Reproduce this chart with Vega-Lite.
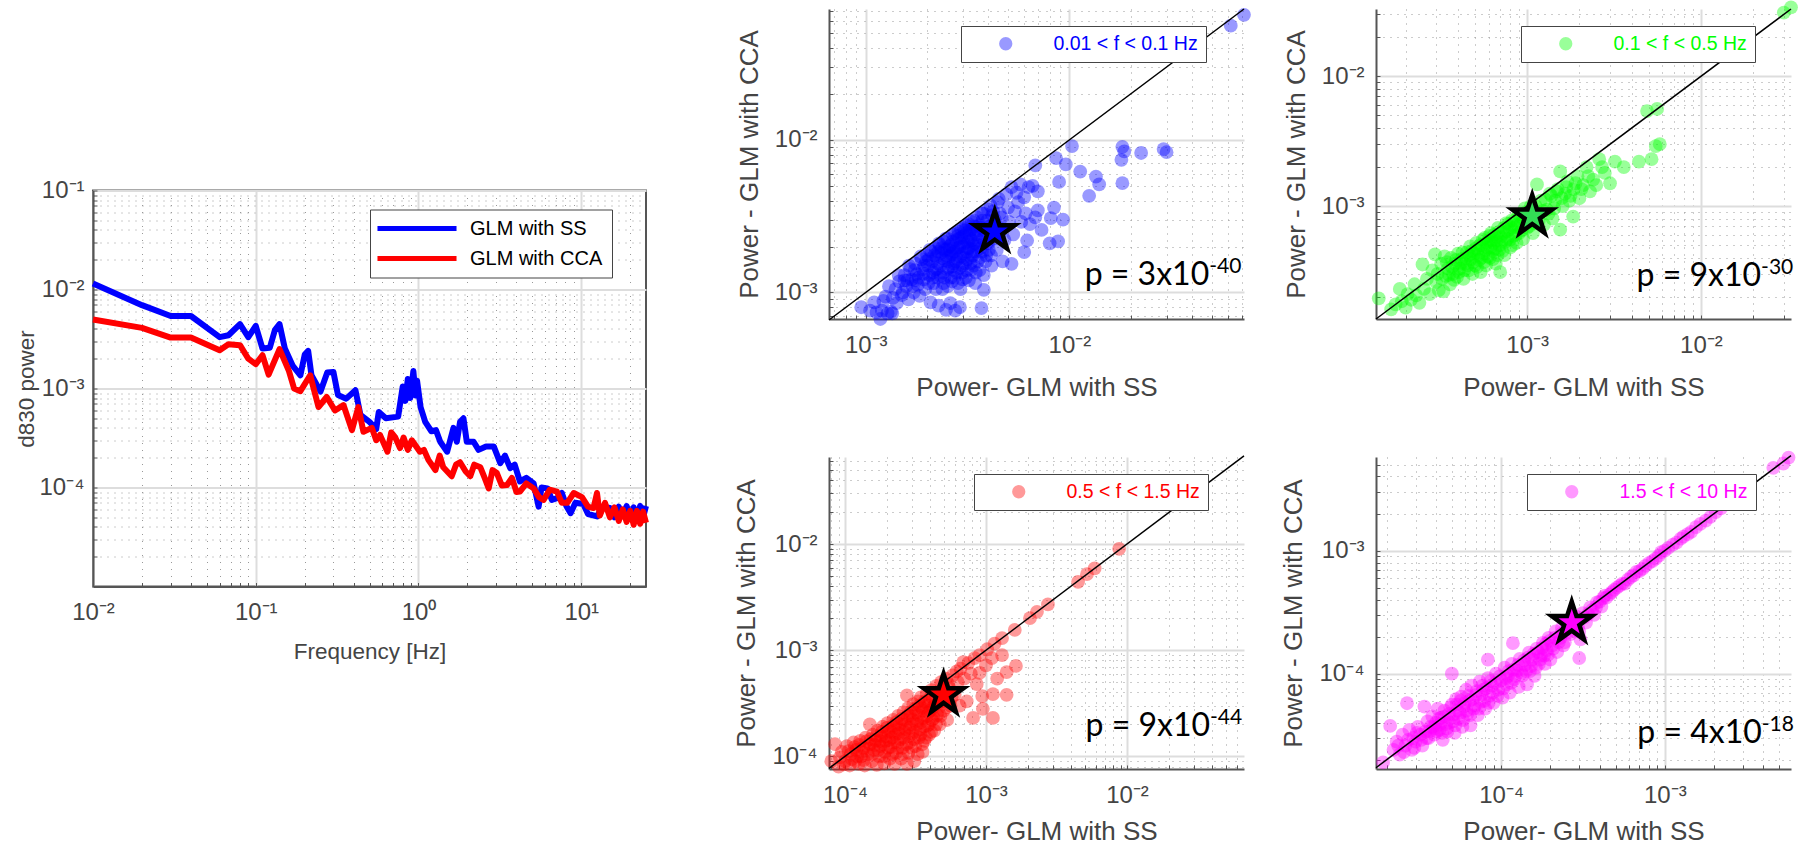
{"$schema":"https://vega.github.io/schema/vega-lite/v6.json","background":"white","padding":{"left":14,"top":-2,"right":0,"bottom":0},"spacing":83,"resolve":{"scale":{"color":"independent"},"legend":{"color":"independent"}},
"config":{"view":{"stroke":null},"axis":{"labelFont":"Liberation Sans","titleFont":"Liberation Sans","titleFontWeight":"normal","labelColor":"#444","titleColor":"#444","domainColor":"#555","domainWidth":2,"tickColor":"#555","tickSize":-4,"labelFontSize":24,"titleFontSize":26,"labelOverlap":false,"labelBound":false,"labelFlush":false,"grid":true},"legend":{"labelFont":"Liberation Sans","labelLimit":400}},
"hconcat":[
{"spacing":18.5,"resolve":{"scale":{"color":"independent"},"legend":{"color":"independent"}},"vconcat":[
{"width":553,"height":150,"data":{"values":[]},"mark":"point"},
{"width":553,"height":396,"view":{"stroke":"#555","strokeWidth":2},
"data":{"values":[
{"f":0.01,"p":1.15e-2,"s":"GLM with SS"},{"f":0.02,"p":6.95e-3,"s":"GLM with SS"},{"f":0.03,"p":5.4e-3,"s":"GLM with SS"},{"f":0.04,"p":5.4e-3,"s":"GLM with SS"},{"f":0.06,"p":3.3e-3,"s":"GLM with SS"},{"f":0.068,"p":3.45e-3,"s":"GLM with SS"},{"f":0.08,"p":4.47e-3,"s":"GLM with SS"},{"f":0.09,"p":3.3e-3,"s":"GLM with SS"},{"f":0.1,"p":4.3e-3,"s":"GLM with SS"},{"f":0.11,"p":2.53e-3,"s":"GLM with SS"},{"f":0.122,"p":2.58e-3,"s":"GLM with SS"},{"f":0.131,"p":3.88e-3,"s":"GLM with SS"},{"f":0.14,"p":4.47e-3,"s":"GLM with SS"},{"f":0.151,"p":2.53e-3,"s":"GLM with SS"},{"f":0.169,"p":1.69e-3,"s":"GLM with SS"},{"f":0.188,"p":1.36e-3,"s":"GLM with SS"},{"f":0.2,"p":2.2e-3,"s":"GLM with SS"},{"f":0.21,"p":2.4e-3,"s":"GLM with SS"},{"f":0.22,"p":1.36e-3,"s":"GLM with SS"},{"f":0.25,"p":9.3e-4,"s":"GLM with SS"},{"f":0.275,"p":1.45e-3,"s":"GLM with SS"},{"f":0.3,"p":1.47e-3,"s":"GLM with SS"},{"f":0.32,"p":8.6e-4,"s":"GLM with SS"},{"f":0.36,"p":7.9e-4,"s":"GLM with SS"},{"f":0.41,"p":9.6e-4,"s":"GLM with SS"},{"f":0.44,"p":5.4e-4,"s":"GLM with SS"},{"f":0.5,"p":4.6e-4,"s":"GLM with SS"},{"f":0.55,"p":3.9e-4,"s":"GLM with SS"},{"f":0.57,"p":5.8e-4,"s":"GLM with SS"},{"f":0.63,"p":5e-4,"s":"GLM with SS"},{"f":0.75,"p":5.2e-4,"s":"GLM with SS"},{"f":0.8,"p":1.05e-3,"s":"GLM with SS"},{"f":0.83,"p":7.5e-4,"s":"GLM with SS"},{"f":0.86,"p":1.25e-3,"s":"GLM with SS"},{"f":0.89,"p":8e-4,"s":"GLM with SS"},{"f":0.93,"p":1.5e-3,"s":"GLM with SS"},{"f":0.96,"p":8.5e-4,"s":"GLM with SS"},{"f":0.98,"p":1.2e-3,"s":"GLM with SS"},{"f":1.03,"p":6.5e-4,"s":"GLM with SS"},{"f":1.1,"p":4.6e-4,"s":"GLM with SS"},{"f":1.2,"p":3.7e-4,"s":"GLM with SS"},{"f":1.28,"p":3.8e-4,"s":"GLM with SS"},{"f":1.36,"p":2.9e-4,"s":"GLM with SS"},{"f":1.5,"p":2.3e-4,"s":"GLM with SS"},{"f":1.64,"p":4e-4,"s":"GLM with SS"},{"f":1.72,"p":2.9e-4,"s":"GLM with SS"},{"f":1.8,"p":4.6e-4,"s":"GLM with SS"},{"f":1.89,"p":5e-4,"s":"GLM with SS"},{"f":1.98,"p":2.9e-4,"s":"GLM with SS"},{"f":2.18,"p":2.9e-4,"s":"GLM with SS"},{"f":2.34,"p":2.4e-4,"s":"GLM with SS"},{"f":2.6,"p":2.6e-4,"s":"GLM with SS"},{"f":2.9,"p":2.6e-4,"s":"GLM with SS"},{"f":3.18,"p":1.76e-4,"s":"GLM with SS"},{"f":3.4,"p":2.1e-4,"s":"GLM with SS"},{"f":3.66,"p":1.57e-4,"s":"GLM with SS"},{"f":3.9,"p":1.7e-4,"s":"GLM with SS"},{"f":4.2,"p":1.15e-4,"s":"GLM with SS"},{"f":4.6,"p":1.25e-4,"s":"GLM with SS"},{"f":5.1,"p":1.1e-4,"s":"GLM with SS"},{"f":5.47,"p":6.4e-5,"s":"GLM with SS"},{"f":5.7,"p":1e-4,"s":"GLM with SS"},{"f":6.2,"p":9.8e-5,"s":"GLM with SS"},{"f":6.6,"p":7.5e-5,"s":"GLM with SS"},{"f":7.1,"p":7.8e-5,"s":"GLM with SS"},{"f":7.6,"p":8.8e-5,"s":"GLM with SS"},{"f":8.1,"p":6.5e-5,"s":"GLM with SS"},{"f":8.6,"p":5.5e-5,"s":"GLM with SS"},{"f":9.2,"p":7e-5,"s":"GLM with SS"},{"f":10.3,"p":6.8e-5,"s":"GLM with SS"},{"f":11,"p":5.4e-5,"s":"GLM with SS"},{"f":12.5,"p":5.1e-5,"s":"GLM with SS"},{"f":13.5,"p":6.4e-5,"s":"GLM with SS"},{"f":15,"p":6.2e-5,"s":"GLM with SS"},{"f":16,"p":5e-5,"s":"GLM with SS"},{"f":17,"p":6.4e-5,"s":"GLM with SS"},{"f":18,"p":5.2e-5,"s":"GLM with SS"},{"f":19,"p":6.5e-5,"s":"GLM with SS"},{"f":20,"p":5e-5,"s":"GLM with SS"},{"f":21,"p":6.3e-5,"s":"GLM with SS"},{"f":22,"p":4.9e-5,"s":"GLM with SS"},{"f":23,"p":6.5e-5,"s":"GLM with SS"},{"f":24,"p":5e-5,"s":"GLM with SS"},{"f":25,"p":6.5e-5,"s":"GLM with SS"},
{"f":0.01,"p":4.97e-3,"s":"GLM with CCA"},{"f":0.02,"p":4.1e-3,"s":"GLM with CCA"},{"f":0.03,"p":3.27e-3,"s":"GLM with CCA"},{"f":0.04,"p":3.27e-3,"s":"GLM with CCA"},{"f":0.06,"p":2.44e-3,"s":"GLM with CCA"},{"f":0.068,"p":2.8e-3,"s":"GLM with CCA"},{"f":0.08,"p":2.74e-3,"s":"GLM with CCA"},{"f":0.09,"p":2e-3,"s":"GLM with CCA"},{"f":0.1,"p":1.76e-3,"s":"GLM with CCA"},{"f":0.11,"p":2.17e-3,"s":"GLM with CCA"},{"f":0.12,"p":1.38e-3,"s":"GLM with CCA"},{"f":0.14,"p":2.5e-3,"s":"GLM with CCA"},{"f":0.16,"p":1.5e-3,"s":"GLM with CCA"},{"f":0.172,"p":1e-3,"s":"GLM with CCA"},{"f":0.188,"p":9.4e-4,"s":"GLM with CCA"},{"f":0.216,"p":1.36e-3,"s":"GLM with CCA"},{"f":0.243,"p":6.5e-4,"s":"GLM with CCA"},{"f":0.273,"p":8.2e-4,"s":"GLM with CCA"},{"f":0.307,"p":6e-4,"s":"GLM with CCA"},{"f":0.346,"p":6.8e-4,"s":"GLM with CCA"},{"f":0.39,"p":3.8e-4,"s":"GLM with CCA"},{"f":0.427,"p":6.5e-4,"s":"GLM with CCA"},{"f":0.459,"p":3.65e-4,"s":"GLM with CCA"},{"f":0.517,"p":4e-4,"s":"GLM with CCA"},{"f":0.55,"p":3e-4,"s":"GLM with CCA"},{"f":0.58,"p":3.4e-4,"s":"GLM with CCA"},{"f":0.645,"p":2.3e-4,"s":"GLM with CCA"},{"f":0.68,"p":3.6e-4,"s":"GLM with CCA"},{"f":0.72,"p":3.2e-4,"s":"GLM with CCA"},{"f":0.77,"p":2.5e-4,"s":"GLM with CCA"},{"f":0.81,"p":3.2e-4,"s":"GLM with CCA"},{"f":0.86,"p":2.4e-4,"s":"GLM with CCA"},{"f":0.91,"p":3e-4,"s":"GLM with CCA"},{"f":1.02,"p":2.3e-4,"s":"GLM with CCA"},{"f":1.08,"p":2.4e-4,"s":"GLM with CCA"},{"f":1.15,"p":1.9e-4,"s":"GLM with CCA"},{"f":1.27,"p":1.5e-4,"s":"GLM with CCA"},{"f":1.35,"p":2.1e-4,"s":"GLM with CCA"},{"f":1.42,"p":1.6e-4,"s":"GLM with CCA"},{"f":1.6,"p":1.3e-4,"s":"GLM with CCA"},{"f":1.7,"p":1.7e-4,"s":"GLM with CCA"},{"f":1.8,"p":1.8e-4,"s":"GLM with CCA"},{"f":1.95,"p":1.45e-4,"s":"GLM with CCA"},{"f":2.08,"p":1.3e-4,"s":"GLM with CCA"},{"f":2.2,"p":1.7e-4,"s":"GLM with CCA"},{"f":2.4,"p":1.6e-4,"s":"GLM with CCA"},{"f":2.55,"p":1.25e-4,"s":"GLM with CCA"},{"f":2.7,"p":9.8e-5,"s":"GLM with CCA"},{"f":2.85,"p":1.5e-4,"s":"GLM with CCA"},{"f":3.03,"p":1.4e-4,"s":"GLM with CCA"},{"f":3.25,"p":1.05e-4,"s":"GLM with CCA"},{"f":3.5,"p":1.06e-4,"s":"GLM with CCA"},{"f":3.75,"p":1.25e-4,"s":"GLM with CCA"},{"f":4,"p":9e-5,"s":"GLM with CCA"},{"f":4.2,"p":9.1e-5,"s":"GLM with CCA"},{"f":4.6,"p":1.1e-4,"s":"GLM with CCA"},{"f":5.1,"p":9.8e-5,"s":"GLM with CCA"},{"f":5.5,"p":8e-5,"s":"GLM with CCA"},{"f":5.87,"p":7.5e-5,"s":"GLM with CCA"},{"f":6.4,"p":9.5e-5,"s":"GLM with CCA"},{"f":7.1,"p":9.1e-5,"s":"GLM with CCA"},{"f":7.6,"p":7e-5,"s":"GLM with CCA"},{"f":8.2,"p":7e-5,"s":"GLM with CCA"},{"f":9,"p":8.8e-5,"s":"GLM with CCA"},{"f":10.1,"p":8e-5,"s":"GLM with CCA"},{"f":11,"p":6.4e-5,"s":"GLM with CCA"},{"f":11.9,"p":6.2e-5,"s":"GLM with CCA"},{"f":12.5,"p":8.8e-5,"s":"GLM with CCA"},{"f":13,"p":5.2e-5,"s":"GLM with CCA"},{"f":14,"p":7e-5,"s":"GLM with CCA"},{"f":15,"p":5e-5,"s":"GLM with CCA"},{"f":16,"p":6.3e-5,"s":"GLM with CCA"},{"f":17,"p":4.6e-5,"s":"GLM with CCA"},{"f":18,"p":6e-5,"s":"GLM with CCA"},{"f":19,"p":4.5e-5,"s":"GLM with CCA"},{"f":20,"p":5.8e-5,"s":"GLM with CCA"},{"f":21,"p":4.2e-5,"s":"GLM with CCA"},{"f":22,"p":5.8e-5,"s":"GLM with CCA"},{"f":23,"p":4.3e-5,"s":"GLM with CCA"},{"f":24,"p":5.7e-5,"s":"GLM with CCA"},{"f":25,"p":4.4e-5,"s":"GLM with CCA"}
]},
"mark":{"type":"line","strokeWidth":6,"strokeJoin":"round"},
"encoding":{
"x":{"field":"f","type":"quantitative","title":"Frequency [Hz]","scale":{"type":"log","domain":[0.01,25],"nice":false},"axis":{"titleFontSize":22.5,"titlePadding":16,"labelPadding":18,"values":[0.01,0.02,0.03,0.04,0.05,0.06,0.07,0.08,0.09,0.1,0.2,0.3,0.4,0.5,0.6,0.7,0.8,0.9,1,2,3,4,5,6,7,8,9,10,20],"labelExpr":"datum.value==0.01?'10⁻²':datum.value==0.1?'10⁻¹':datum.value==1?'10⁰':datum.value==10?'10¹':''","gridColor":{"condition":{"test":"indexof([0.01,0.1,1,10],datum.value)>=0","value":"#ddd"},"value":"#999"},"gridDash":{"condition":{"test":"indexof([0.01,0.1,1,10],datum.value)>=0","value":[]},"value":[1,6]},"gridWidth":{"condition":{"test":"indexof([0.01,0.1,1,10],datum.value)>=0","value":2},"value":1}}},
"y":{"field":"p","type":"quantitative","title":"d830 power","scale":{"type":"log","domain":[1e-5,0.1],"nice":false},"axis":{"titleFontSize":22.5,"titlePadding":0,"labelPadding":13,"values":[2e-5,3e-5,4e-5,5e-5,6e-5,7e-5,8e-5,9e-5,1e-4,2e-4,3e-4,4e-4,5e-4,6e-4,7e-4,8e-4,9e-4,1e-3,2e-3,3e-3,4e-3,5e-3,6e-3,7e-3,8e-3,9e-3,0.01,0.02,0.03,0.04,0.05,0.06,0.07,0.08,0.09,0.1],"labelExpr":"datum.value==0.1?'10⁻¹':datum.value==0.01?'10⁻²':datum.value==1e-3?'10⁻³':datum.value==1e-4?'10⁻⁴':''","gridColor":{"condition":{"test":"indexof([0.1,0.01,1e-3,1e-4],datum.value)>=0","value":"#ddd"},"value":"#999"},"gridDash":{"condition":{"test":"indexof([0.1,0.01,1e-3,1e-4],datum.value)>=0","value":[]},"value":[1,6]},"gridWidth":{"condition":{"test":"indexof([0.1,0.01,1e-3,1e-4],datum.value)>=0","value":2},"value":1}}},
"color":{"field":"s","type":"nominal","scale":{"domain":["GLM with SS","GLM with CCA"],"range":["#0000ff","#ff0000"]},"sort":null,"legend":{"title":null,"orient":"none","legendX":277,"legendY":19,"fillColor":"white","strokeColor":"#444","padding":9,"symbolType":"M-5.27,0L5.27,0","symbolSize":225,"symbolStrokeWidth":5,"symbolOffset":28,"labelFontSize":20,"labelOffset":43,"rowPadding":10,"encoding":{"labels":{"update":{"fill":{"signal":"datum.label=='GLM with SS'?'#0000ff':'#ff0000'"}}},"legend":{"update":{"strokeWidth":{"value":2}}}}}}}
}]},
{"spacing":49,"resolve":{"scale":{"color":"independent"},"legend":{"color":"independent"}},"vconcat":[
{"hconcat":[
{"width":415,"height":310,"layer":[
{"data":{"values":[{"s":9.5e-4,"c":8e-4},{"s":1.05e-3,"c":7.6e-4},{"s":1.1e-3,"c":8.6e-4},{"s":1.13e-3,"c":7.4e-4},{"s":1.18e-3,"c":6.7e-4},{"s":1.2e-3,"c":7.6e-4},{"s":1.22e-3,"c":8.8e-4},{"s":1.25e-3,"c":9.4e-4},{"s":1.28e-3,"c":7.3e-4},{"s":1.33e-3,"c":7.5e-4},{"s":1.35e-3,"c":7.3e-4},{"s":1.36e-3,"c":9.2e-4},{"s":1.4e-3,"c":1.05e-3},{"s":1.42e-3,"c":8.5e-4},{"s":1.46e-3,"c":1.18e-3},{"s":1.5e-3,"c":9.6e-4},{"s":1.55e-3,"c":1.3e-3},{"s":1.58e-3,"c":1.1e-3},{"s":1.62e-3,"c":9e-4},{"s":1.65e-3,"c":1.42e-3},{"s":1.68e-3,"c":1.22e-3},{"s":1.72e-3,"c":1e-3},{"s":1.75e-3,"c":1.55e-3},{"s":1.78e-3,"c":1.32e-3},{"s":1.8e-3,"c":1.12e-3},{"s":1.84e-3,"c":9.5e-4},{"s":1.88e-3,"c":1.65e-3},{"s":1.9e-3,"c":1.42e-3},{"s":1.93e-3,"c":1.22e-3},{"s":1.96e-3,"c":1.05e-3},{"s":2e-3,"c":1.75e-3},{"s":2.02e-3,"c":1.5e-3},{"s":2.05e-3,"c":1.3e-3},{"s":2.08e-3,"c":8.6e-4},{"s":2.1e-3,"c":1.85e-3},{"s":2.12e-3,"c":1.6e-3},{"s":2.15e-3,"c":1.15e-3},{"s":2.18e-3,"c":1.4e-3},{"s":2.2e-3,"c":1.95e-3},{"s":2.22e-3,"c":1.72e-3},{"s":2.25e-3,"c":1.25e-3},{"s":2.28e-3,"c":8.2e-4},{"s":2.3e-3,"c":2.05e-3},{"s":2.32e-3,"c":1.5e-3},{"s":2.35e-3,"c":1.82e-3},{"s":2.38e-3,"c":1.05e-3},{"s":2.4e-3,"c":1.35e-3},{"s":2.42e-3,"c":2.15e-3},{"s":2.45e-3,"c":1.62e-3},{"s":2.48e-3,"c":7.7e-4},{"s":2.5e-3,"c":1.92e-3},{"s":2.52e-3,"c":2.25e-3},{"s":2.55e-3,"c":1.45e-3},{"s":2.58e-3,"c":1.72e-3},{"s":2.6e-3,"c":8.5e-4},{"s":2.62e-3,"c":2.05e-3},{"s":2.65e-3,"c":1.18e-3},{"s":2.68e-3,"c":2.4e-3},{"s":2.7e-3,"c":1.55e-3},{"s":2.72e-3,"c":1.85e-3},{"s":2.75e-3,"c":7.6e-4},{"s":2.78e-3,"c":2.2e-3},{"s":2.8e-3,"c":1.35e-3},{"s":2.82e-3,"c":1.65e-3},{"s":2.85e-3,"c":2.5e-3},{"s":2.88e-3,"c":1.98e-3},{"s":2.9e-3,"c":8e-4},{"s":2.92e-3,"c":1.05e-3},{"s":2.95e-3,"c":2.3e-3},{"s":2.98e-3,"c":1.5e-3},{"s":3e-3,"c":1.8e-3},{"s":3.02e-3,"c":2.65e-3},{"s":3.05e-3,"c":2.1e-3},{"s":3.1e-3,"c":1.25e-3},{"s":3.12e-3,"c":2.45e-3},{"s":3.15e-3,"c":1.65e-3},{"s":3.2e-3,"c":2.8e-3},{"s":3.22e-3,"c":1.95e-3},{"s":3.25e-3,"c":2.25e-3},{"s":3.3e-3,"c":1.4e-3},{"s":3.32e-3,"c":2.6e-3},{"s":3.35e-3,"c":1.75e-3},{"s":3.4e-3,"c":2.95e-3},{"s":3.42e-3,"c":2.1e-3},{"s":3.45e-3,"c":1.15e-3},{"s":3.5e-3,"c":2.4e-3},{"s":3.55e-3,"c":1.6e-3},{"s":3.6e-3,"c":2.75e-3},{"s":3.65e-3,"c":1.95e-3},{"s":3.7e-3,"c":3.3e-3},{"s":3.7e-3,"c":7.9e-4},{"s":3.75e-3,"c":2.25e-3},{"s":3.8e-3,"c":1.3e-3},{"s":3.8e-3,"c":1.04e-3},{"s":3.85e-3,"c":2.55e-3},{"s":3.9e-3,"c":1.75e-3},{"s":3.95e-3,"c":2.95e-3},{"s":4e-3,"c":2.1e-3},{"s":4.1e-3,"c":3.7e-3},{"s":4.15e-3,"c":1.5e-3},{"s":4.2e-3,"c":2.4e-3},{"s":4.3e-3,"c":3e-3},{"s":4.4e-3,"c":1.9e-3},{"s":4.5e-3,"c":4.1e-3},{"s":4.55e-3,"c":3.3e-3},{"s":4.6e-3,"c":2.6e-3},{"s":4.7e-3,"c":1.6e-3},{"s":4.8e-3,"c":2.2e-3},{"s":4.9e-3,"c":4.4e-3},{"s":5e-3,"c":3.6e-3},{"s":5.05e-3,"c":2.9e-3},{"s":5.2e-3,"c":4.9e-3},{"s":5.2e-3,"c":1.54e-3},{"s":5.3e-3,"c":2.4e-3},{"s":5.4e-3,"c":3.4e-3},{"s":5.5e-3,"c":4.5e-3},{"s":5.6e-3,"c":3.9e-3},{"s":5.75e-3,"c":5.1e-3},{"s":5.8e-3,"c":2.9e-3},{"s":6e-3,"c":4.2e-3},{"s":6e-3,"c":1.84e-3},{"s":6.1e-3,"c":3.3e-3},{"s":6.2e-3,"c":2.19e-3},{"s":6.3e-3,"c":4.9e-3},{"s":6.4e-3,"c":2.8e-3},{"s":6.6e-3,"c":5e-3},{"s":6.8e-3,"c":6.8e-3},{"s":6.8e-3,"c":3.1e-3},{"s":7e-3,"c":4.6e-3},{"s":7e-3,"c":3.45e-3},{"s":7.3e-3,"c":2.57e-3},{"s":8e-3,"c":2.1e-3},{"s":8.1e-3,"c":3.07e-3},{"s":8.4e-3,"c":3.6e-3},{"s":8.6e-3,"c":7.6e-3},{"s":8.8e-3,"c":2.16e-3},{"s":8.9e-3,"c":5.3e-3},{"s":9.3e-3,"c":3e-3},{"s":9.6e-3,"c":6.9e-3},{"s":1.03e-2,"c":9.1e-3},{"s":1.13e-2,"c":6.2e-3},{"s":1.25e-2,"c":4.3e-3},{"s":1.35e-2,"c":5.75e-3},{"s":1.4e-2,"c":5.1e-3},{"s":1.8e-2,"c":7.4e-3},{"s":1.82e-2,"c":9e-3},{"s":1.82e-2,"c":5.2e-3},{"s":1.86e-2,"c":8.4e-3},{"s":2.25e-2,"c":8.2e-3},{"s":2.9e-2,"c":8.7e-3},{"s":3e-2,"c":8.3e-3},{"s":6.2e-2,"c":5.6e-2},{"s":7.2e-2,"c":6.6e-2},{"s":1.3e-3,"c":1.1e-3},{"s":1.45e-3,"c":1.3e-3},{"s":1.52e-3,"c":1e-3},{"s":1.6e-3,"c":1.2e-3},{"s":1.63e-3,"c":1.5e-3},{"s":1.7e-3,"c":1.1e-3},{"s":1.74e-3,"c":1.4e-3},{"s":1.82e-3,"c":1.25e-3},{"s":1.86e-3,"c":1.72e-3},{"s":1.92e-3,"c":1.33e-3},{"s":1.98e-3,"c":1.6e-3},{"s":2.03e-3,"c":1.15e-3},{"s":2.06e-3,"c":1.9e-3},{"s":2.14e-3,"c":1.35e-3},{"s":2.17e-3,"c":1.75e-3},{"s":2.21e-3,"c":1.05e-3},{"s":2.26e-3,"c":1.55e-3},{"s":2.29e-3,"c":2.1e-3},{"s":2.33e-3,"c":1.28e-3},{"s":2.37e-3,"c":1.68e-3},{"s":2.41e-3,"c":1.15e-3},{"s":2.44e-3,"c":1.9e-3},{"s":2.47e-3,"c":2.25e-3},{"s":2.51e-3,"c":1.42e-3},{"s":2.54e-3,"c":1.6e-3},{"s":2.57e-3,"c":2e-3},{"s":2.61e-3,"c":1.25e-3},{"s":2.64e-3,"c":1.78e-3},{"s":2.67e-3,"c":2.15e-3},{"s":2.71e-3,"c":1.4e-3},{"s":2.74e-3,"c":2.45e-3},{"s":2.77e-3,"c":1.6e-3},{"s":2.81e-3,"c":1.95e-3},{"s":2.84e-3,"c":1.15e-3},{"s":2.87e-3,"c":2.25e-3},{"s":2.91e-3,"c":1.72e-3},{"s":2.94e-3,"c":2.6e-3},{"s":2.97e-3,"c":1.35e-3},{"s":3.01e-3,"c":2e-3},{"s":3.04e-3,"c":2.35e-3},{"s":3.08e-3,"c":1.55e-3},{"s":3.11e-3,"c":2.75e-3},{"s":3.14e-3,"c":1.85e-3},{"s":3.18e-3,"c":2.15e-3},{"s":3.21e-3,"c":1.2e-3},{"s":3.24e-3,"c":2.55e-3},{"s":3.28e-3,"c":1.7e-3},{"s":3.31e-3,"c":2.9e-3},{"s":3.36e-3,"c":2.05e-3},{"s":3.39e-3,"c":1.5e-3},{"s":3.44e-3,"c":2.5e-3},{"s":3.48e-3,"c":1.85e-3},{"s":3.52e-3,"c":3.1e-3},{"s":3.56e-3,"c":2.2e-3},{"s":3.62e-3,"c":1.4e-3},{"s":3.68e-3,"c":2.65e-3},{"s":3.72e-3,"c":1.85e-3},{"s":3.78e-3,"c":3.3e-3},{"s":3.82e-3,"c":2.4e-3},{"s":3.88e-3,"c":1.6e-3},{"s":3.92e-3,"c":2.1e-3},{"s":3.98e-3,"c":3.5e-3},{"s":4.05e-3,"c":2.7e-3},{"s":4.12e-3,"c":1.75e-3},{"s":4.18e-3,"c":3.2e-3},{"s":4.25e-3,"c":2.25e-3},{"s":4.35e-3,"c":2.8e-3},{"s":4.45e-3,"c":3.9e-3},{"s":4.52e-3,"c":2.4e-3},{"s":4.65e-3,"c":3.1e-3},{"s":1.55e-3,"c":1.2e-3},{"s":1.76e-3,"c":1.2e-3},{"s":1.94e-3,"c":1.5e-3},{"s":2.04e-3,"c":1.65e-3},{"s":2.13e-3,"c":1.25e-3},{"s":2.23e-3,"c":1.42e-3},{"s":2.27e-3,"c":1.85e-3},{"s":2.36e-3,"c":1.95e-3},{"s":2.43e-3,"c":1.25e-3},{"s":2.49e-3,"c":1.75e-3},{"s":2.53e-3,"c":1.1e-3},{"s":2.59e-3,"c":1.88e-3},{"s":2.66e-3,"c":1.48e-3},{"s":2.69e-3,"c":1.95e-3},{"s":2.73e-3,"c":1.25e-3},{"s":2.79e-3,"c":1.78e-3},{"s":2.83e-3,"c":2.35e-3},{"s":2.89e-3,"c":1.45e-3},{"s":2.93e-3,"c":2.1e-3},{"s":2.99e-3,"c":1.22e-3},{"s":3.03e-3,"c":1.7e-3},{"s":3.07e-3,"c":2.55e-3},{"s":3.13e-3,"c":1.4e-3},{"s":3.17e-3,"c":1.95e-3},{"s":3.23e-3,"c":2.4e-3},{"s":3.27e-3,"c":1.55e-3},{"s":3.33e-3,"c":2.2e-3},{"s":3.38e-3,"c":1.85e-3},{"s":3.43e-3,"c":2.7e-3},{"s":3.47e-3,"c":1.35e-3},{"s":3.54e-3,"c":2.05e-3},{"s":3.58e-3,"c":2.55e-3},{"s":3.66e-3,"c":1.7e-3},{"s":3.74e-3,"c":2.95e-3},{"s":3.84e-3,"c":2.15e-3},{"s":3.93e-3,"c":2.7e-3},{"s":4.02e-3,"c":1.9e-3},{"s":4.14e-3,"c":2.6e-3},{"s":4.22e-3,"c":3.4e-3},{"s":4.38e-3,"c":2.5e-3}]},
"mark":{"type":"circle","size":190,"opacity":0.4},
"encoding":{"x":{"field":"s","type":"quantitative","title":"Power- GLM with SS","scale":{"type":"log","domain":[6.6e-4,7.2e-2],"nice":false},"axis":{"titlePadding":17,"labelPadding":18,"values":[7e-4,8e-4,9e-4,1e-3,2e-3,3e-3,4e-3,5e-3,6e-3,7e-3,8e-3,9e-3,0.01,0.02,0.03,0.04,0.05,0.06,0.07],"labelExpr":"datum.value==1e-3?'10⁻³':datum.value==0.01?'10⁻²':''","gridColor":{"condition":{"test":"indexof([1e-3,0.01],datum.value)>=0","value":"#ddd"},"value":"#999"},"gridDash":{"condition":{"test":"indexof([1e-3,0.01],datum.value)>=0","value":[]},"value":[1,6]},"gridWidth":{"condition":{"test":"indexof([1e-3,0.01],datum.value)>=0","value":2},"value":1}}},
"y":{"field":"c","type":"quantitative","title":"Power - GLM with CCA","scale":{"type":"log","domain":[6.7e-4,7.2e-2],"nice":false},"axis":{"titlePadding":12,"labelPadding":16,"values":[7e-4,8e-4,9e-4,1e-3,2e-3,3e-3,4e-3,5e-3,6e-3,7e-3,8e-3,9e-3,0.01,0.02,0.03,0.04,0.05,0.06,0.07],"labelExpr":"datum.value==1e-3?'10⁻³':datum.value==0.01?'10⁻²':''","gridColor":{"condition":{"test":"indexof([1e-3,0.01],datum.value)>=0","value":"#ddd"},"value":"#999"},"gridDash":{"condition":{"test":"indexof([1e-3,0.01],datum.value)>=0","value":[]},"value":[1,6]},"gridWidth":{"condition":{"test":"indexof([1e-3,0.01],datum.value)>=0","value":2},"value":1}}},
"color":{"datum":"0.01 < f < 0.1 Hz","scale":{"range":["#0000ff"]},"legend":{"title":null,"orient":"none","legendX":132,"legendY":17,"fillColor":"white","strokeColor":"#444","padding":8,"symbolSize":177,"symbolOffset":27,"labelOffset":38,"labelFontSize":19.5,"labelColor":"#0000ff","labelExpr":"datum.label+'\u00a0\u00a0\u00a0'","encoding":{"legend":{"update":{"strokeWidth":{"value":2}}}}}}}},
{"data":{"values":[{"s":6.6e-4,"c":6.6e-4},{"s":7.2e-2,"c":7.2e-2}]},"mark":{"type":"line","color":"black","strokeWidth":1.5},"encoding":{"x":{"field":"s","type":"quantitative"},"y":{"field":"c","type":"quantitative"}}},
{"data":{"values":[{"s":4.3e-3,"c":2.5e-3}]},"mark":{"type":"point","shape":"M0,-1L0.2245,-0.309L0.951,-0.309L0.363,0.118L0.588,0.809L0,0.382L-0.588,0.809L-0.363,0.118L-0.951,-0.309L-0.2245,-0.309Z","size":1764,"filled":true,"fill":"#0000ff","stroke":"black","strokeWidth":4.5,"opacity":1},"encoding":{"x":{"field":"s","type":"quantitative"},"y":{"field":"c","type":"quantitative"}}},
{"data":{"values":[{"t":"p = 3x10"}]},"mark":{"type":"text","align":"right","baseline":"alphabetic","font":"Lato","fontSize":32,"color":"black"},"encoding":{"x":{"datum":4.86e-2},"y":{"datum":1.12e-3},"text":{"field":"t"}}},
{"data":{"values":[{"t":"-40"}]},"mark":{"type":"text","align":"left","baseline":"alphabetic","font":"Lato","fontSize":21,"color":"black"},"encoding":{"x":{"datum":4.86e-2},"y":{"datum":1.35e-3},"text":{"field":"t"}}}
]},
{"width":415,"height":310,"layer":[
{"data":{"values":[{"s":1.4e-4,"c":1.95e-4},{"s":1.65e-4,"c":1.6e-4},{"s":1.75e-4,"c":1.75e-4},{"s":1.85e-4,"c":2.3e-4},{"s":1.9e-4,"c":1.85e-4},{"s":2e-4,"c":1.65e-4},{"s":2.05e-4,"c":2.1e-4},{"s":2.15e-4,"c":1.9e-4},{"s":2.25e-4,"c":2.5e-4},{"s":2.3e-4,"c":2.05e-4},{"s":2.4e-4,"c":1.8e-4},{"s":2.5e-4,"c":3.55e-4},{"s":2.55e-4,"c":2.3e-4},{"s":2.65e-4,"c":2.75e-4},{"s":2.75e-4,"c":2.1e-4},{"s":2.85e-4,"c":3.2e-4},{"s":2.95e-4,"c":4.25e-4},{"s":3e-4,"c":2.6e-4},{"s":3.1e-4,"c":2.25e-4},{"s":3.2e-4,"c":3.6e-4},{"s":3.3e-4,"c":2.2e-4},{"s":3.35e-4,"c":4.1e-4},{"s":3.4e-4,"c":2.9e-4},{"s":3.5e-4,"c":3.3e-4},{"s":3.6e-4,"c":2.5e-4},{"s":3.65e-4,"c":4e-4},{"s":3.75e-4,"c":3e-4},{"s":3.85e-4,"c":3.6e-4},{"s":3.95e-4,"c":2.85e-4},{"s":4e-4,"c":4.3e-4},{"s":4.1e-4,"c":3.3e-4},{"s":4.2e-4,"c":3.9e-4},{"s":4.3e-4,"c":2.75e-4},{"s":4.4e-4,"c":3.6e-4},{"s":4.5e-4,"c":4.4e-4},{"s":4.6e-4,"c":3.2e-4},{"s":4.7e-4,"c":4.9e-4},{"s":4.75e-4,"c":3.9e-4},{"s":4.85e-4,"c":3e-4},{"s":4.95e-4,"c":4.3e-4},{"s":5e-4,"c":3.5e-4},{"s":5.1e-4,"c":5.2e-4},{"s":5.2e-4,"c":4.6e-4},{"s":5.3e-4,"c":3.85e-4},{"s":5.4e-4,"c":3.1e-4},{"s":5.5e-4,"c":5e-4},{"s":5.6e-4,"c":4.3e-4},{"s":5.7e-4,"c":5.7e-4},{"s":5.8e-4,"c":3.5e-4},{"s":5.9e-4,"c":4.8e-4},{"s":6e-4,"c":5.4e-4},{"s":6.1e-4,"c":4e-4},{"s":6.2e-4,"c":6.2e-4},{"s":6.3e-4,"c":4.5e-4},{"s":6.4e-4,"c":5.2e-4},{"s":6.6e-4,"c":3.6e-4},{"s":6.7e-4,"c":5.8e-4},{"s":6.8e-4,"c":6.8e-4},{"s":6.9e-4,"c":4.6e-4},{"s":7e-4,"c":3.1e-4},{"s":7.1e-4,"c":5.3e-4},{"s":7.3e-4,"c":6.2e-4},{"s":7.4e-4,"c":4.2e-4},{"s":7.6e-4,"c":7.4e-4},{"s":7.7e-4,"c":5.6e-4},{"s":7.9e-4,"c":6.6e-4},{"s":8e-4,"c":4.8e-4},{"s":8.2e-4,"c":7.8e-4},{"s":8.3e-4,"c":5.9e-4},{"s":8.5e-4,"c":6.9e-4},{"s":8.7e-4,"c":5.2e-4},{"s":8.9e-4,"c":8.6e-4},{"s":9e-4,"c":6.2e-4},{"s":9.2e-4,"c":7.4e-4},{"s":9.5e-4,"c":5.6e-4},{"s":9.7e-4,"c":9.6e-4},{"s":1e-3,"c":6.8e-4},{"s":1.02e-3,"c":8e-4},{"s":1.05e-3,"c":1e-3},{"s":1.08e-3,"c":6.2e-4},{"s":1.1e-3,"c":7.4e-4},{"s":1.14e-3,"c":1.47e-3},{"s":1.15e-3,"c":8.8e-4},{"s":1.2e-3,"c":1.1e-3},{"s":1.25e-3,"c":7.2e-4},{"s":1.3e-3,"c":9.4e-4},{"s":1.35e-3,"c":1.25e-3},{"s":1.4e-3,"c":8e-4},{"s":1.45e-3,"c":1.1e-3},{"s":1.55e-3,"c":1.85e-3},{"s":1.55e-3,"c":6.6e-4},{"s":1.5e-3,"c":1.35e-3},{"s":1.6e-3,"c":1e-3},{"s":1.65e-3,"c":1.25e-3},{"s":1.7e-3,"c":1.55e-3},{"s":1.75e-3,"c":1.1e-3},{"s":1.84e-3,"c":8.3e-4},{"s":1.85e-3,"c":1.35e-3},{"s":1.95e-3,"c":1.7e-3},{"s":2e-3,"c":1.15e-3},{"s":2.1e-3,"c":1.45e-3},{"s":2.2e-3,"c":2e-3},{"s":2.3e-3,"c":1.3e-3},{"s":2.4e-3,"c":1.6e-3},{"s":2.6e-3,"c":2.3e-3},{"s":2.8e-3,"c":1.8e-3},{"s":3e-3,"c":1.5e-3},{"s":3.2e-3,"c":2.2e-3},{"s":3.6e-3,"c":2e-3},{"s":4.4e-3,"c":2.2e-3},{"s":4.9e-3,"c":5.4e-3},{"s":5.2e-3,"c":2.3e-3},{"s":5.5e-3,"c":2.9e-3},{"s":5.6e-3,"c":5.6e-3},{"s":5.8e-3,"c":3e-3},{"s":3e-2,"c":3.1e-2},{"s":3.3e-2,"c":3.4e-2},{"s":3.05e-4,"c":3e-4},{"s":3.25e-4,"c":2.75e-4},{"s":3.45e-4,"c":3.7e-4},{"s":3.55e-4,"c":2.95e-4},{"s":3.7e-4,"c":3.4e-4},{"s":3.8e-4,"c":2.7e-4},{"s":3.9e-4,"c":3.85e-4},{"s":4.05e-4,"c":3.1e-4},{"s":4.15e-4,"c":3.6e-4},{"s":4.25e-4,"c":4.4e-4},{"s":4.35e-4,"c":3.2e-4},{"s":4.45e-4,"c":4e-4},{"s":4.55e-4,"c":3.5e-4},{"s":4.65e-4,"c":4.2e-4},{"s":4.8e-4,"c":4.5e-4},{"s":4.9e-4,"c":3.7e-4},{"s":5.05e-4,"c":4.7e-4},{"s":5.15e-4,"c":3.4e-4},{"s":5.25e-4,"c":4.2e-4},{"s":5.35e-4,"c":5e-4},{"s":5.45e-4,"c":4e-4},{"s":5.55e-4,"c":5.5e-4},{"s":5.65e-4,"c":3.7e-4},{"s":5.75e-4,"c":4.6e-4},{"s":5.85e-4,"c":5.2e-4},{"s":5.95e-4,"c":4.1e-4},{"s":6.05e-4,"c":5.9e-4},{"s":6.15e-4,"c":4.8e-4},{"s":6.25e-4,"c":5.5e-4},{"s":6.35e-4,"c":3.9e-4},{"s":6.45e-4,"c":6e-4},{"s":6.55e-4,"c":4.7e-4},{"s":6.65e-4,"c":5.4e-4},{"s":6.75e-4,"c":4.2e-4},{"s":6.85e-4,"c":6.3e-4},{"s":6.95e-4,"c":5e-4},{"s":7.05e-4,"c":5.8e-4},{"s":7.2e-4,"c":4.5e-4},{"s":7.35e-4,"c":6.8e-4},{"s":7.5e-4,"c":5.3e-4},{"s":7.65e-4,"c":6.4e-4},{"s":7.8e-4,"c":7.3e-4},{"s":7.95e-4,"c":5.5e-4},{"s":8.1e-4,"c":6.9e-4},{"s":8.25e-4,"c":5e-4},{"s":8.4e-4,"c":7.7e-4},{"s":8.6e-4,"c":6e-4},{"s":8.8e-4,"c":7.2e-4},{"s":9.1e-4,"c":8.3e-4},{"s":9.3e-4,"c":6.5e-4},{"s":9.6e-4,"c":7.8e-4},{"s":9.9e-4,"c":9e-4},{"s":1.03e-3,"c":7e-4},{"s":1.07e-3,"c":8.6e-4},{"s":1.12e-3,"c":1e-3},{"s":1.17e-3,"c":7.8e-4},{"s":1.23e-3,"c":9.2e-4},{"s":1.28e-3,"c":1.12e-3},{"s":1.33e-3,"c":8.8e-4},{"s":1.38e-3,"c":1.2e-3},{"s":1.43e-3,"c":9.6e-4},{"s":1.48e-3,"c":1.3e-3},{"s":1.58e-3,"c":1.15e-3},{"s":1.68e-3,"c":1.4e-3},{"s":1.78e-3,"c":1.2e-3},{"s":1.9e-3,"c":1.5e-3},{"s":2.05e-3,"c":1.35e-3},{"s":2.25e-3,"c":1.7e-3},{"s":2.5e-3,"c":1.45e-3},{"s":2.7e-3,"c":2e-3}]},
"mark":{"type":"circle","size":190,"opacity":0.4},
"encoding":{"x":{"field":"s","type":"quantitative","title":"Power- GLM with SS","scale":{"type":"log","domain":[1.35e-4,3.3e-2],"nice":false},"axis":{"titlePadding":17,"labelPadding":18,"values":[2e-4,3e-4,4e-4,5e-4,6e-4,7e-4,8e-4,9e-4,1e-3,2e-3,3e-3,4e-3,5e-3,6e-3,7e-3,8e-3,9e-3,0.01,0.02,0.03],"labelExpr":"datum.value==1e-3?'10⁻³':datum.value==0.01?'10⁻²':''","gridColor":{"condition":{"test":"indexof([1e-3,0.01],datum.value)>=0","value":"#ddd"},"value":"#999"},"gridDash":{"condition":{"test":"indexof([1e-3,0.01],datum.value)>=0","value":[]},"value":[1,6]},"gridWidth":{"condition":{"test":"indexof([1e-3,0.01],datum.value)>=0","value":2},"value":1}}},
"y":{"field":"c","type":"quantitative","title":"Power - GLM with CCA","scale":{"type":"log","domain":[1.35e-4,3.3e-2],"nice":false},"axis":{"titlePadding":12,"labelPadding":16,"values":[2e-4,3e-4,4e-4,5e-4,6e-4,7e-4,8e-4,9e-4,1e-3,2e-3,3e-3,4e-3,5e-3,6e-3,7e-3,8e-3,9e-3,0.01,0.02,0.03],"labelExpr":"datum.value==1e-3?'10⁻³':datum.value==0.01?'10⁻²':''","gridColor":{"condition":{"test":"indexof([1e-3,0.01],datum.value)>=0","value":"#ddd"},"value":"#999"},"gridDash":{"condition":{"test":"indexof([1e-3,0.01],datum.value)>=0","value":[]},"value":[1,6]},"gridWidth":{"condition":{"test":"indexof([1e-3,0.01],datum.value)>=0","value":2},"value":1}}},
"color":{"datum":"0.1 < f < 0.5 Hz","scale":{"range":["#00ff00"]},"legend":{"title":null,"orient":"none","legendX":145,"legendY":17,"fillColor":"white","strokeColor":"#444","padding":8,"symbolSize":177,"symbolOffset":27,"labelOffset":38,"labelFontSize":19.5,"labelColor":"#00ff00","labelExpr":"datum.label+'\u00a0\u00a0\u00a0'","encoding":{"legend":{"update":{"strokeWidth":{"value":2}}}}}}}},
{"data":{"values":[{"s":1.35e-4,"c":1.35e-4},{"s":3.3e-2,"c":3.3e-2}]},"mark":{"type":"line","color":"black","strokeWidth":1.5},"encoding":{"x":{"field":"s","type":"quantitative"},"y":{"field":"c","type":"quantitative"}}},
{"data":{"values":[{"s":1.07e-3,"c":8.4e-4}]},"mark":{"type":"point","shape":"M0,-1L0.2245,-0.309L0.951,-0.309L0.363,0.118L0.588,0.809L0,0.382L-0.588,0.809L-0.363,0.118L-0.951,-0.309L-0.2245,-0.309Z","size":1764,"filled":true,"fill":"#33dd55","stroke":"black","strokeWidth":4.5,"opacity":1},"encoding":{"x":{"field":"s","type":"quantitative"},"y":{"field":"c","type":"quantitative"}}},
{"data":{"values":[{"t":"p = 9x10"}]},"mark":{"type":"text","align":"right","baseline":"alphabetic","font":"Lato","fontSize":32,"color":"black"},"encoding":{"x":{"datum":2.22e-2},"y":{"datum":2.41e-4},"text":{"field":"t"}}},
{"data":{"values":[{"t":"-30"}]},"mark":{"type":"text","align":"left","baseline":"alphabetic","font":"Lato","fontSize":21,"color":"black"},"encoding":{"x":{"datum":2.22e-2},"y":{"datum":2.98e-4},"text":{"field":"t"}}}
]}
],"spacing":132,"bounds":"flush","resolve":{"scale":{"color":"independent"},"legend":{"color":"independent"}}},
{"hconcat":[
{"width":415,"height":312,"layer":[
{"data":{"values":[{"s":8e-5,"c":9e-5},{"s":8.5e-5,"c":1.3e-4},{"s":9e-5,"c":8e-5},{"s":9.5e-5,"c":1.1e-4},{"s":1e-4,"c":9e-5},{"s":1.03e-4,"c":1.25e-4},{"s":1.08e-4,"c":8.2e-5},{"s":1.1e-4,"c":1.05e-4},{"s":1.15e-4,"c":1.35e-4},{"s":1.18e-4,"c":9e-5},{"s":1.2e-4,"c":1.15e-4},{"s":1.25e-4,"c":8.5e-5},{"s":1.28e-4,"c":1.4e-4},{"s":1.3e-4,"c":1e-4},{"s":1.35e-4,"c":1.2e-4},{"s":1.38e-4,"c":8.2e-5},{"s":1.4e-4,"c":1.5e-4},{"s":1.45e-4,"c":1.05e-4},{"s":1.5e-4,"c":2e-4},{"s":1.5e-4,"c":1.3e-4},{"s":1.55e-4,"c":9e-5},{"s":1.58e-4,"c":1.6e-4},{"s":1.6e-4,"c":1.15e-4},{"s":1.65e-4,"c":1.4e-4},{"s":1.68e-4,"c":8.3e-5},{"s":1.7e-4,"c":1.75e-4},{"s":1.75e-4,"c":1e-4},{"s":1.78e-4,"c":1.25e-4},{"s":1.8e-4,"c":1.55e-4},{"s":1.85e-4,"c":1.9e-4},{"s":1.9e-4,"c":8.6e-5},{"s":1.92e-4,"c":1.1e-4},{"s":1.95e-4,"c":1.4e-4},{"s":2e-4,"c":2.05e-4},{"s":2.03e-4,"c":1.7e-4},{"s":2.08e-4,"c":9.5e-5},{"s":2.1e-4,"c":1.22e-4},{"s":2.15e-4,"c":1.5e-4},{"s":2.2e-4,"c":2.2e-4},{"s":2.22e-4,"c":1.85e-4},{"s":2.25e-4,"c":8.5e-5},{"s":2.3e-4,"c":1.08e-4},{"s":2.35e-4,"c":1.35e-4},{"s":2.38e-4,"c":2.4e-4},{"s":2.4e-4,"c":1.65e-4},{"s":2.45e-4,"c":2e-4},{"s":2.5e-4,"c":9.5e-5},{"s":2.55e-4,"c":1.2e-4},{"s":2.6e-4,"c":2.6e-4},{"s":2.62e-4,"c":1.5e-4},{"s":2.65e-4,"c":2.2e-4},{"s":2.7e-4,"c":1.8e-4},{"s":2.75e-4,"c":3.75e-4},{"s":2.75e-4,"c":8.5e-5},{"s":2.8e-4,"c":2.85e-4},{"s":2.82e-4,"c":1.08e-4},{"s":2.85e-4,"c":1.35e-4},{"s":2.9e-4,"c":2.4e-4},{"s":2.95e-4,"c":2e-4},{"s":3e-4,"c":1.65e-4},{"s":3.05e-4,"c":3.1e-4},{"s":3.1e-4,"c":9e-5},{"s":3.15e-4,"c":1.25e-4},{"s":3.2e-4,"c":2.6e-4},{"s":3.25e-4,"c":2.15e-4},{"s":3.3e-4,"c":3.3e-4},{"s":3.35e-4,"c":1.5e-4},{"s":3.4e-4,"c":1.8e-4},{"s":3.45e-4,"c":3.6e-4},{"s":3.5e-4,"c":2.85e-4},{"s":3.55e-4,"c":1.1e-4},{"s":3.6e-4,"c":2.3e-4},{"s":3.65e-4,"c":1.4e-4},{"s":3.7e-4,"c":3.2e-4},{"s":3.8e-4,"c":3.9e-4},{"s":3.85e-4,"c":1.95e-4},{"s":3.9e-4,"c":2.6e-4},{"s":3.95e-4,"c":1.6e-4},{"s":4e-4,"c":3.5e-4},{"s":4.1e-4,"c":4.2e-4},{"s":4.15e-4,"c":2.2e-4},{"s":4.2e-4,"c":2.9e-4},{"s":4.3e-4,"c":1.75e-4},{"s":4.4e-4,"c":3.8e-4},{"s":4.45e-4,"c":4.6e-4},{"s":4.5e-4,"c":2.45e-4},{"s":4.6e-4,"c":3.2e-4},{"s":4.7e-4,"c":2e-4},{"s":4.8e-4,"c":5e-4},{"s":4.85e-4,"c":4.1e-4},{"s":5e-4,"c":2.7e-4},{"s":5.1e-4,"c":3.5e-4},{"s":5.2e-4,"c":5.4e-4},{"s":5.3e-4,"c":2.2e-4},{"s":5.5e-4,"c":4.4e-4},{"s":5.6e-4,"c":3e-4},{"s":5.8e-4,"c":5.8e-4},{"s":6e-4,"c":3.8e-4},{"s":6.2e-4,"c":6.3e-4},{"s":6.3e-4,"c":5e-4},{"s":6.5e-4,"c":3e-4},{"s":6.6e-4,"c":6.7e-4},{"s":6.9e-4,"c":7.7e-4},{"s":7e-4,"c":5.4e-4},{"s":7.3e-4,"c":3.3e-4},{"s":7.5e-4,"c":7.6e-4},{"s":7.8e-4,"c":6e-4},{"s":8.1e-4,"c":2.3e-4},{"s":8.3e-4,"c":8.4e-4},{"s":8.6e-4,"c":4.8e-4},{"s":9e-4,"c":9e-4},{"s":9e-4,"c":6.1e-4},{"s":9.4e-4,"c":3.7e-4},{"s":9.5e-4,"c":2.8e-4},{"s":1e-3,"c":7.2e-4},{"s":1.02e-3,"c":1.02e-3},{"s":1.1e-3,"c":8.4e-4},{"s":1.12e-3,"c":3.85e-4},{"s":1.12e-3,"c":2.3e-4},{"s":1.15e-3,"c":1.15e-3},{"s":1.2e-3,"c":5.4e-4},{"s":1.3e-3,"c":9e-4},{"s":1.3e-3,"c":1.3e-3},{"s":1.4e-3,"c":6.2e-4},{"s":1.4e-3,"c":3.8e-4},{"s":1.6e-3,"c":1.55e-3},{"s":1.63e-3,"c":7.1e-4},{"s":2.05e-3,"c":2e-3},{"s":2.3e-3,"c":2.3e-3},{"s":2.75e-3,"c":2.7e-3},{"s":4.5e-3,"c":4.4e-3},{"s":5.2e-3,"c":5.2e-3},{"s":5.9e-3,"c":5.9e-3},{"s":8.8e-3,"c":9e-3},{"s":9.2e-5,"c":9.8e-5},{"s":9.8e-5,"c":8.4e-5},{"s":1.06e-4,"c":1.12e-4},{"s":1.12e-4,"c":9.4e-5},{"s":1.17e-4,"c":1.22e-4},{"s":1.22e-4,"c":1e-4},{"s":1.26e-4,"c":1.28e-4},{"s":1.32e-4,"c":1.1e-4},{"s":1.36e-4,"c":9.2e-5},{"s":1.42e-4,"c":1.38e-4},{"s":1.47e-4,"c":1.18e-4},{"s":1.52e-4,"c":1.45e-4},{"s":1.56e-4,"c":1.05e-4},{"s":1.62e-4,"c":1.28e-4},{"s":1.67e-4,"c":1.55e-4},{"s":1.72e-4,"c":1.15e-4},{"s":1.76e-4,"c":1.4e-4},{"s":1.82e-4,"c":1.7e-4},{"s":1.87e-4,"c":1.3e-4},{"s":1.9e-4,"c":1e-4},{"s":1.94e-4,"c":1.55e-4},{"s":1.98e-4,"c":1.85e-4},{"s":2.02e-4,"c":1.2e-4},{"s":2.06e-4,"c":1.42e-4},{"s":2.12e-4,"c":1.7e-4},{"s":2.17e-4,"c":1.05e-4},{"s":2.2e-4,"c":1.95e-4},{"s":2.24e-4,"c":1.35e-4},{"s":2.28e-4,"c":1.6e-4},{"s":2.32e-4,"c":2.1e-4},{"s":2.37e-4,"c":1.2e-4},{"s":2.42e-4,"c":1.8e-4},{"s":2.47e-4,"c":1.45e-4},{"s":2.52e-4,"c":2.25e-4},{"s":2.57e-4,"c":1.05e-4},{"s":2.63e-4,"c":1.7e-4},{"s":2.68e-4,"c":2e-4},{"s":2.73e-4,"c":1.3e-4},{"s":2.78e-4,"c":2.4e-4},{"s":2.83e-4,"c":1.55e-4},{"s":2.88e-4,"c":1.85e-4},{"s":2.93e-4,"c":2.6e-4},{"s":2.98e-4,"c":1.2e-4},{"s":3.03e-4,"c":2.2e-4},{"s":3.08e-4,"c":1.45e-4},{"s":3.13e-4,"c":2.8e-4},{"s":3.18e-4,"c":1.7e-4},{"s":3.23e-4,"c":2e-4},{"s":3.28e-4,"c":1.05e-4},{"s":3.33e-4,"c":2.45e-4},{"s":3.38e-4,"c":3e-4},{"s":3.43e-4,"c":1.6e-4},{"s":3.48e-4,"c":2.1e-4},{"s":3.53e-4,"c":1.3e-4},{"s":3.58e-4,"c":2.7e-4},{"s":3.63e-4,"c":1.9e-4},{"s":3.68e-4,"c":3.3e-4},{"s":3.75e-4,"c":1.5e-4},{"s":3.82e-4,"c":2.4e-4},{"s":3.88e-4,"c":3e-4},{"s":3.94e-4,"c":2e-4},{"s":4.03e-4,"c":2.7e-4},{"s":4.08e-4,"c":1.7e-4},{"s":4.18e-4,"c":3.6e-4},{"s":4.25e-4,"c":2.3e-4},{"s":4.35e-4,"c":3.1e-4},{"s":4.42e-4,"c":2e-4},{"s":4.55e-4,"c":2.7e-4},{"s":4.65e-4,"c":3.9e-4},{"s":4.75e-4,"c":2.4e-4},{"s":4.9e-4,"c":3.3e-4},{"s":5.05e-4,"c":4.3e-4},{"s":5.25e-4,"c":2.9e-4},{"s":5.4e-4,"c":4.8e-4},{"s":5.7e-4,"c":3.6e-4}]},
"mark":{"type":"circle","size":190,"opacity":0.4},
"encoding":{"x":{"field":"s","type":"quantitative","title":"Power- GLM with SS","scale":{"type":"log","domain":[7.7e-5,6.76e-2],"nice":false},"axis":{"titlePadding":11,"labelPadding":18,"values":[8e-5,9e-5,1e-4,2e-4,3e-4,4e-4,5e-4,6e-4,7e-4,8e-4,9e-4,1e-3,2e-3,3e-3,4e-3,5e-3,6e-3,7e-3,8e-3,9e-3,0.01,0.02,0.03,0.04,0.05,0.06],"labelExpr":"datum.value==1e-4?'10⁻⁴':datum.value==1e-3?'10⁻³':datum.value==0.01?'10⁻²':''","gridColor":{"condition":{"test":"indexof([1e-4,1e-3,0.01],datum.value)>=0","value":"#ddd"},"value":"#999"},"gridDash":{"condition":{"test":"indexof([1e-4,1e-3,0.01],datum.value)>=0","value":[]},"value":[1,6]},"gridWidth":{"condition":{"test":"indexof([1e-4,1e-3,0.01],datum.value)>=0","value":2},"value":1}}},
"y":{"field":"c","type":"quantitative","title":"Power - GLM with CCA","scale":{"type":"log","domain":[7.6e-5,6.6e-2],"nice":false},"axis":{"titlePadding":12,"labelPadding":16,"values":[8e-5,9e-5,1e-4,2e-4,3e-4,4e-4,5e-4,6e-4,7e-4,8e-4,9e-4,1e-3,2e-3,3e-3,4e-3,5e-3,6e-3,7e-3,8e-3,9e-3,0.01,0.02,0.03,0.04,0.05,0.06],"labelExpr":"datum.value==1e-4?'10⁻⁴':datum.value==1e-3?'10⁻³':datum.value==0.01?'10⁻²':''","gridColor":{"condition":{"test":"indexof([1e-4,1e-3,0.01],datum.value)>=0","value":"#ddd"},"value":"#999"},"gridDash":{"condition":{"test":"indexof([1e-4,1e-3,0.01],datum.value)>=0","value":[]},"value":[1,6]},"gridWidth":{"condition":{"test":"indexof([1e-4,1e-3,0.01],datum.value)>=0","value":2},"value":1}}},
"color":{"datum":"0.5 < f < 1.5 Hz","scale":{"range":["#ff0000"]},"legend":{"title":null,"orient":"none","legendX":145,"legendY":17,"fillColor":"white","strokeColor":"#444","padding":8,"symbolSize":177,"symbolOffset":27,"labelOffset":38,"labelFontSize":19.5,"labelColor":"#ff0000","labelExpr":"datum.label+'\u00a0\u00a0\u00a0'","encoding":{"legend":{"update":{"strokeWidth":{"value":2}}}}}}}},
{"data":{"values":[{"s":7.7e-5,"c":7.7e-5},{"s":6.76e-2,"c":6.76e-2}]},"mark":{"type":"line","color":"black","strokeWidth":1.5},"encoding":{"x":{"field":"s","type":"quantitative"},"y":{"field":"c","type":"quantitative"}}},
{"data":{"values":[{"s":5e-4,"c":3.8e-4}]},"mark":{"type":"point","shape":"M0,-1L0.2245,-0.309L0.951,-0.309L0.363,0.118L0.588,0.809L0,0.382L-0.588,0.809L-0.363,0.118L-0.951,-0.309L-0.2245,-0.309Z","size":1764,"filled":true,"fill":"#ff0000","stroke":"black","strokeWidth":4.5,"opacity":1},"encoding":{"x":{"field":"s","type":"quantitative"},"y":{"field":"c","type":"quantitative"}}},
{"data":{"values":[{"t":"p = 9x10"}]},"mark":{"type":"text","align":"right","baseline":"alphabetic","font":"Lato","fontSize":32,"color":"black"},"encoding":{"x":{"datum":3.88e-2},"y":{"datum":1.55e-4},"text":{"field":"t"}}},
{"data":{"values":[{"t":"-44"}]},"mark":{"type":"text","align":"left","baseline":"alphabetic","font":"Lato","fontSize":21,"color":"black"},"encoding":{"x":{"datum":3.88e-2},"y":{"datum":2e-4},"text":{"field":"t"}}}
]},
{"width":415,"height":312,"layer":[
{"data":{"values":[{"s":1.9e-5,"c":1.9e-5},{"s":2.1e-5,"c":3.76e-5},{"s":2.2e-5,"c":2.4e-5},{"s":2.3e-5,"c":2.8e-5},{"s":2.4e-5,"c":2.2e-5},{"s":2.5e-5,"c":3.2e-5},{"s":2.6e-5,"c":2.6e-5},{"s":2.66e-5,"c":5.75e-5},{"s":2.75e-5,"c":3.5e-5},{"s":2.85e-5,"c":2.4e-5},{"s":2.9e-5,"c":3e-5},{"s":3e-5,"c":2.8e-5},{"s":3.1e-5,"c":3.7e-5},{"s":3.2e-5,"c":3.2e-5},{"s":3.3e-5,"c":2.6e-5},{"s":3.4e-5,"c":5.4e-5},{"s":3.45e-5,"c":3.4e-5},{"s":3.55e-5,"c":4.1e-5},{"s":3.6e-5,"c":3e-5},{"s":3.7e-5,"c":3.7e-5},{"s":3.8e-5,"c":4.5e-5},{"s":3.9e-5,"c":3.2e-5},{"s":4e-5,"c":4e-5},{"s":4.1e-5,"c":5.2e-5},{"s":4.2e-5,"c":3.5e-5},{"s":4.3e-5,"c":4.4e-5},{"s":4.4e-5,"c":2.9e-5},{"s":4.5e-5,"c":5e-5},{"s":4.6e-5,"c":3.9e-5},{"s":4.7e-5,"c":3.4e-5},{"s":4.8e-5,"c":4.7e-5},{"s":5e-5,"c":1e-4},{"s":5e-5,"c":5.6e-5},{"s":5.1e-5,"c":4.1e-5},{"s":5.2e-5,"c":3.3e-5},{"s":5.3e-5,"c":6.2e-5},{"s":5.4e-5,"c":5e-5},{"s":5.5e-5,"c":4.3e-5},{"s":5.7e-5,"c":6.5e-5},{"s":5.8e-5,"c":3.7e-5},{"s":5.9e-5,"c":5.4e-5},{"s":6.1e-5,"c":7.4e-5},{"s":6.2e-5,"c":4.7e-5},{"s":6.4e-5,"c":6e-5},{"s":6.5e-5,"c":3.8e-5},{"s":6.6e-5,"c":8e-5},{"s":6.8e-5,"c":5.2e-5},{"s":7e-5,"c":6.7e-5},{"s":7.2e-5,"c":4.6e-5},{"s":7.4e-5,"c":8.6e-5},{"s":7.5e-5,"c":5.9e-5},{"s":7.8e-5,"c":7.4e-5},{"s":8e-5,"c":5.2e-5},{"s":8.3e-5,"c":1.3e-4},{"s":8.3e-5,"c":9.2e-5},{"s":8.5e-5,"c":6.6e-5},{"s":8.8e-5,"c":8e-5},{"s":9e-5,"c":5.8e-5},{"s":9.3e-5,"c":1e-4},{"s":9.6e-5,"c":7.4e-5},{"s":1e-4,"c":8.8e-5},{"s":1.02e-4,"c":6.4e-5},{"s":1.05e-4,"c":1.12e-4},{"s":1.08e-4,"c":8.2e-5},{"s":1.1e-4,"c":9.6e-5},{"s":1.13e-4,"c":7e-5},{"s":1.16e-4,"c":1.2e-4},{"s":1.18e-4,"c":1.77e-4},{"s":1.2e-4,"c":9e-5},{"s":1.25e-4,"c":1.06e-4},{"s":1.28e-4,"c":7.8e-5},{"s":1.3e-4,"c":1.32e-4},{"s":1.35e-4,"c":9.7e-5},{"s":1.4e-4,"c":1.18e-4},{"s":1.44e-4,"c":8.2e-5},{"s":1.48e-4,"c":1.48e-4},{"s":1.5e-4,"c":1.05e-4},{"s":1.55e-4,"c":1.3e-4},{"s":1.6e-4,"c":9.6e-5},{"s":1.65e-4,"c":1.6e-4},{"s":1.7e-4,"c":1.2e-4},{"s":1.75e-4,"c":1.4e-4},{"s":1.8e-4,"c":1.78e-4},{"s":1.85e-4,"c":1.2e-4},{"s":1.9e-4,"c":1.55e-4},{"s":1.95e-4,"c":1.95e-4},{"s":2e-4,"c":1.3e-4},{"s":2.05e-4,"c":1.7e-4},{"s":2.15e-4,"c":2.2e-4},{"s":2.2e-4,"c":1.5e-4},{"s":2.3e-4,"c":1.95e-4},{"s":2.35e-4,"c":2.35e-4},{"s":2.45e-4,"c":1.8e-4},{"s":2.55e-4,"c":2.15e-4},{"s":2.6e-4,"c":2.6e-4},{"s":2.75e-4,"c":2.25e-4},{"s":2.9e-4,"c":2.9e-4},{"s":3e-4,"c":1.34e-4},{"s":3e-4,"c":2.2e-4},{"s":3.15e-4,"c":3.1e-4},{"s":3.3e-4,"c":2.6e-4},{"s":3.5e-4,"c":3.45e-4},{"s":3.7e-4,"c":3e-4},{"s":3.85e-4,"c":3.8e-4},{"s":4.1e-4,"c":3.5e-4},{"s":4.3e-4,"c":4.3e-4},{"s":4.6e-4,"c":4.4e-4},{"s":4.9e-4,"c":4.8e-4},{"s":5.3e-4,"c":5.2e-4},{"s":5.7e-4,"c":5.4e-4},{"s":6.2e-4,"c":6.1e-4},{"s":6.7e-4,"c":6.7e-4},{"s":7.3e-4,"c":7.1e-4},{"s":8e-4,"c":7.9e-4},{"s":8.8e-4,"c":8.6e-4},{"s":9.5e-4,"c":9.7e-4},{"s":1.05e-3,"c":1.05e-3},{"s":1.18e-3,"c":1.16e-3},{"s":1.3e-3,"c":1.3e-3},{"s":1.45e-3,"c":1.42e-3},{"s":1.65e-3,"c":1.65e-3},{"s":1.9e-3,"c":1.88e-3},{"s":2.2e-3,"c":2.2e-3},{"s":4.6e-3,"c":4.7e-3},{"s":5.3e-3,"c":5.1e-3},{"s":5.7e-3,"c":5.7e-3},{"s":2.35e-5,"c":2.6e-5},{"s":2.55e-5,"c":2.3e-5},{"s":2.7e-5,"c":2.9e-5},{"s":2.95e-5,"c":2.5e-5},{"s":3.05e-5,"c":3.3e-5},{"s":3.25e-5,"c":2.9e-5},{"s":3.5e-5,"c":3e-5},{"s":3.65e-5,"c":3.4e-5},{"s":3.85e-5,"c":3.7e-5},{"s":3.95e-5,"c":3.6e-5},{"s":4.05e-5,"c":3.4e-5},{"s":4.15e-5,"c":4.3e-5},{"s":4.25e-5,"c":3.9e-5},{"s":4.35e-5,"c":3.3e-5},{"s":4.55e-5,"c":4.5e-5},{"s":4.65e-5,"c":3.6e-5},{"s":4.85e-5,"c":4e-5},{"s":4.9e-5,"c":5.3e-5},{"s":5.15e-5,"c":4.7e-5},{"s":5.25e-5,"c":3.8e-5},{"s":5.35e-5,"c":5.6e-5},{"s":5.6e-5,"c":4.8e-5},{"s":5.65e-5,"c":6e-5},{"s":5.85e-5,"c":4.2e-5},{"s":6e-5,"c":5.8e-5},{"s":6.15e-5,"c":5e-5},{"s":6.3e-5,"c":6.6e-5},{"s":6.45e-5,"c":4.6e-5},{"s":6.7e-5,"c":6.2e-5},{"s":6.9e-5,"c":5.5e-5},{"s":7.1e-5,"c":7.2e-5},{"s":7.3e-5,"c":5.2e-5},{"s":7.6e-5,"c":6.8e-5},{"s":7.7e-5,"c":8e-5},{"s":7.9e-5,"c":6e-5},{"s":8.1e-5,"c":7.6e-5},{"s":8.4e-5,"c":5.8e-5},{"s":8.6e-5,"c":8.7e-5},{"s":8.9e-5,"c":7e-5},{"s":9.2e-5,"c":8.4e-5},{"s":9.5e-5,"c":6.6e-5},{"s":9.8e-5,"c":9.5e-5},{"s":1.03e-4,"c":7.6e-5},{"s":1.07e-4,"c":9.2e-5},{"s":1.11e-4,"c":1.05e-4},{"s":1.15e-4,"c":8.4e-5},{"s":1.19e-4,"c":1.08e-4},{"s":1.23e-4,"c":9.6e-5},{"s":1.27e-4,"c":1.18e-4},{"s":1.33e-4,"c":1.02e-4},{"s":1.38e-4,"c":1.28e-4},{"s":1.42e-4,"c":1.05e-4},{"s":1.46e-4,"c":1.35e-4},{"s":1.52e-4,"c":1.15e-4},{"s":1.58e-4,"c":1.45e-4},{"s":1.63e-4,"c":1.12e-4},{"s":1.68e-4,"c":1.5e-4},{"s":1.73e-4,"c":1.3e-4},{"s":1.78e-4,"c":1.62e-4},{"s":1.83e-4,"c":1.4e-4},{"s":1.88e-4,"c":1.75e-4},{"s":1.93e-4,"c":1.42e-4},{"s":1.98e-4,"c":1.85e-4},{"s":2.08e-4,"c":1.6e-4},{"s":2.13e-4,"c":1.95e-4},{"s":2.25e-4,"c":1.8e-4},{"s":2.33e-4,"c":2.1e-4},{"s":2.4e-4,"c":1.7e-4},{"s":2.5e-4,"c":2.35e-4},{"s":2.65e-4,"c":2.1e-4},{"s":2.8e-4,"c":2.6e-4},{"s":2.95e-4,"c":2.4e-4},{"s":3.05e-4,"c":1.9e-4},{"s":3.2e-4,"c":2.85e-4},{"s":3.4e-4,"c":3.05e-4},{"s":3.6e-4,"c":3.3e-4},{"s":3.8e-4,"c":3.45e-4},{"s":4e-4,"c":3.85e-4},{"s":4.2e-4,"c":4.1e-4},{"s":4.4e-4,"c":4.15e-4},{"s":4.75e-4,"c":4.6e-4},{"s":5.1e-4,"c":5e-4},{"s":5.5e-4,"c":5.4e-4},{"s":5.95e-4,"c":5.8e-4},{"s":6.45e-4,"c":6.3e-4},{"s":7e-4,"c":6.8e-4},{"s":7.6e-4,"c":7.5e-4},{"s":8.4e-4,"c":8.2e-4},{"s":9.2e-4,"c":9.1e-4},{"s":1e-3,"c":1e-3},{"s":1.12e-3,"c":1.12e-3},{"s":1.25e-3,"c":1.25e-3},{"s":1.38e-3,"c":1.36e-3},{"s":1.55e-3,"c":1.55e-3},{"s":1.78e-3,"c":1.75e-3},{"s":2.05e-3,"c":2.05e-3},{"s":2.4e-3,"c":2.4e-3},{"s":2.6e-3,"c":2.55e-3},{"s":3e-3,"c":3e-3}]},
"mark":{"type":"circle","size":190,"opacity":0.4},
"encoding":{"x":{"field":"s","type":"quantitative","title":"Power- GLM with SS","scale":{"type":"log","domain":[1.72e-5,5.9e-3],"nice":false},"axis":{"titlePadding":11,"labelPadding":18,"values":[2e-5,3e-5,4e-5,5e-5,6e-5,7e-5,8e-5,9e-5,1e-4,2e-4,3e-4,4e-4,5e-4,6e-4,7e-4,8e-4,9e-4,1e-3,2e-3,3e-3,4e-3,5e-3],"labelExpr":"datum.value==1e-4?'10⁻⁴':datum.value==1e-3?'10⁻³':''","gridColor":{"condition":{"test":"indexof([1e-4,1e-3],datum.value)>=0","value":"#ddd"},"value":"#999"},"gridDash":{"condition":{"test":"indexof([1e-4,1e-3],datum.value)>=0","value":[]},"value":[1,6]},"gridWidth":{"condition":{"test":"indexof([1e-4,1e-3],datum.value)>=0","value":2},"value":1}}},
"y":{"field":"c","type":"quantitative","title":"Power - GLM with CCA","scale":{"type":"log","domain":[1.68e-5,5.76e-3],"nice":false},"axis":{"titlePadding":12,"labelPadding":16,"values":[2e-5,3e-5,4e-5,5e-5,6e-5,7e-5,8e-5,9e-5,1e-4,2e-4,3e-4,4e-4,5e-4,6e-4,7e-4,8e-4,9e-4,1e-3,2e-3,3e-3,4e-3,5e-3],"labelExpr":"datum.value==1e-4?'10⁻⁴':datum.value==1e-3?'10⁻³':''","gridColor":{"condition":{"test":"indexof([1e-4,1e-3],datum.value)>=0","value":"#ddd"},"value":"#999"},"gridDash":{"condition":{"test":"indexof([1e-4,1e-3],datum.value)>=0","value":[]},"value":[1,6]},"gridWidth":{"condition":{"test":"indexof([1e-4,1e-3],datum.value)>=0","value":2},"value":1}}},
"color":{"datum":"1.5 < f < 10 Hz","scale":{"range":["#ff00ff"]},"legend":{"title":null,"orient":"none","legendX":151,"legendY":17,"fillColor":"white","strokeColor":"#444","padding":8,"symbolSize":177,"symbolOffset":27,"labelOffset":38,"labelFontSize":19.5,"labelColor":"#ff00ff","labelExpr":"datum.label+'\u00a0\u00a0\u00a0'","encoding":{"legend":{"update":{"strokeWidth":{"value":2}}}}}}}},
{"data":{"values":[{"s":1.72e-5,"c":1.72e-5},{"s":5.9e-3,"c":5.9e-3}]},"mark":{"type":"line","color":"black","strokeWidth":1.5},"encoding":{"x":{"field":"s","type":"quantitative"},"y":{"field":"c","type":"quantitative"}}},
{"data":{"values":[{"s":2.7e-4,"c":2.6e-4}]},"mark":{"type":"point","shape":"M0,-1L0.2245,-0.309L0.951,-0.309L0.363,0.118L0.588,0.809L0,0.382L-0.588,0.809L-0.363,0.118L-0.951,-0.309L-0.2245,-0.309Z","size":1764,"filled":true,"fill":"#ff00ff","stroke":"black","strokeWidth":4.5,"opacity":1},"encoding":{"x":{"field":"s","type":"quantitative"},"y":{"field":"c","type":"quantitative"}}},
{"data":{"values":[{"t":"p = 4x10"}]},"mark":{"type":"text","align":"right","baseline":"alphabetic","font":"Lato","fontSize":32,"color":"black"},"encoding":{"x":{"datum":3.91e-3},"y":{"datum":2.73e-5},"text":{"field":"t"}}},
{"data":{"values":[{"t":"-18"}]},"mark":{"type":"text","align":"left","baseline":"alphabetic","font":"Lato","fontSize":21,"color":"black"},"encoding":{"x":{"datum":3.91e-3},"y":{"datum":3.42e-5},"text":{"field":"t"}}}
]}
],"spacing":132,"bounds":"flush","resolve":{"scale":{"color":"independent"},"legend":{"color":"independent"}}}
]}
]}
